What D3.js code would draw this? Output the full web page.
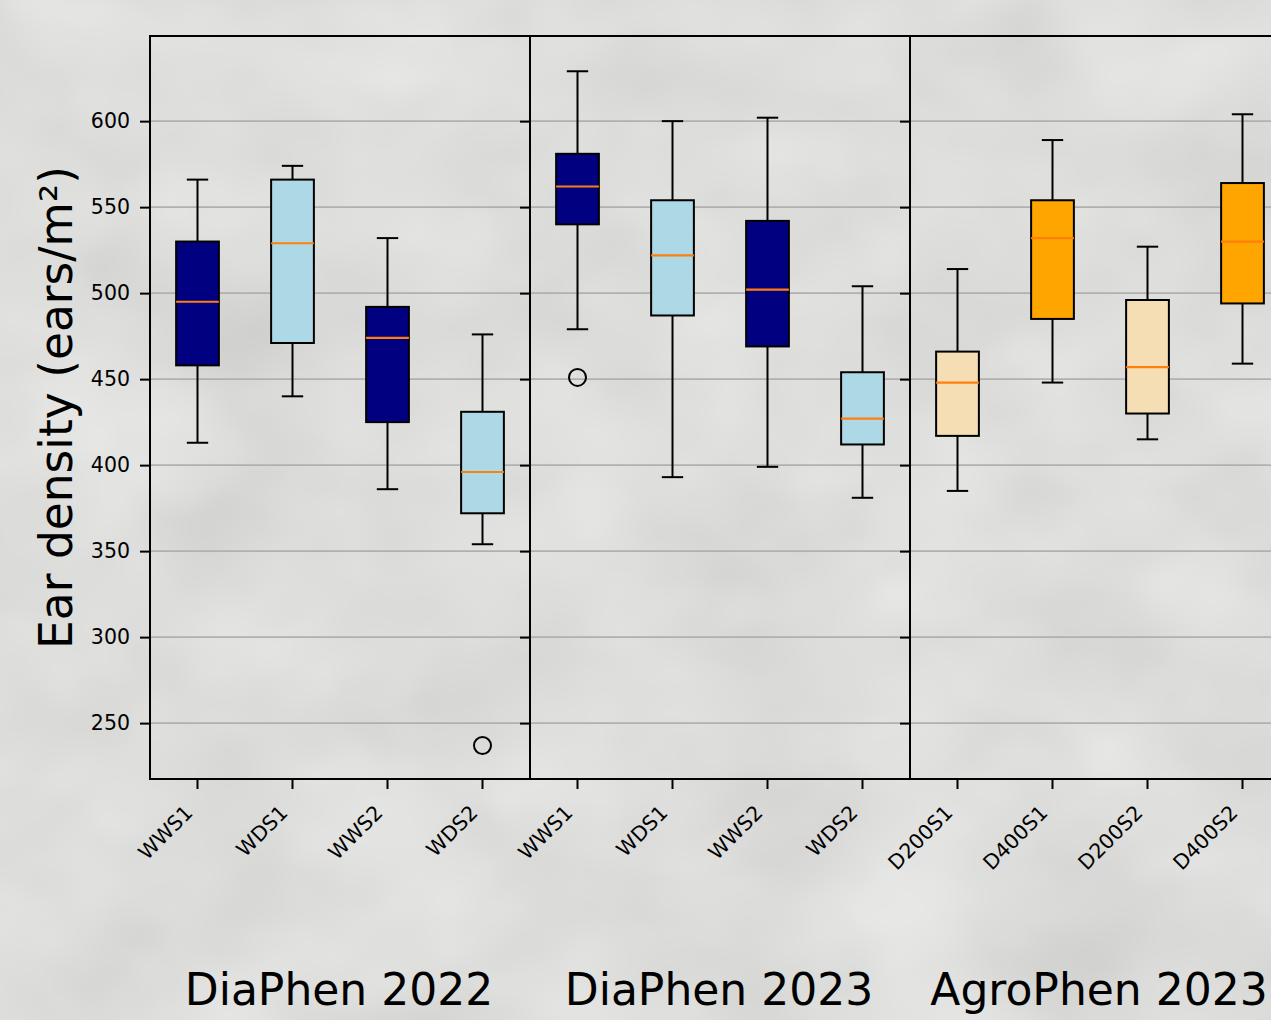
<!DOCTYPE html>
<html>
<head>
<meta charset="utf-8">
<script src="https://cdn.jsdelivr.net/npm/d3@7"></script>
<style>
  html, body { margin: 0; padding: 0; background: #dcdcda; }
  svg { display: block; }
  text { font-family: "DejaVu Sans", sans-serif; fill: #000; }
</style>
</head>
<body>
<div id="chart"></div>
<script>
// ---- data ----
const groups = ["DiaPhen 2022", "DiaPhen 2023", "AgroPhen 2023"];
const categories = [
  ["WWS1", "WDS1", "WWS2", "WDS2"],
  ["WWS1", "WDS1", "WWS2", "WDS2"],
  ["D200S1", "D400S1", "D200S2", "D400S2"]
];
const whiskerLow  = [413, 440, 386, 354,  479, 393, 399, 381,  385, 448, 415, 459];
const q1          = [458, 471, 425, 372,  540, 487, 469, 412,  417, 485, 430, 494];
const median      = [495, 529, 474, 396,  562, 522, 502, 427,  448, 532, 457, 530];
const q3          = [530, 566, 492, 431,  581, 554, 542, 454,  466, 554, 496, 564];
const whiskerHigh = [566, 574, 532, 476,  629, 600, 602, 504,  514, 589, 527, 604];
const outliers = [
  { box: 3, value: 237 },
  { box: 4, value: 451 }
];
const boxColors = ["#000080", "#add8e6", "#000080", "#add8e6",
                   "#000080", "#add8e6", "#000080", "#add8e6",
                   "#f5deb3", "#ffa500", "#f5deb3", "#ffa500"];
const yTicks = [250, 300, 350, 400, 450, 500, 550, 600];

// ---- layout ----
const W = 1271, H = 1020;
const plotTop = 36, plotBottom = 779, plotLeft = 150, panelW = 380;

let svg = d3.select("#chart")
  .append("svg")
  .attr("width", W)
  .attr("height", H);

// textured grey background, a little like the photo behind the original
let defs = svg.append("defs");
let f = defs.append("filter").attr("id", "tex")
  .attr("x", 0).attr("y", 0).attr("width", "100%").attr("height", "100%")
  .attr("color-interpolation-filters", "sRGB");
f.append("feTurbulence").attr("type", "fractalNoise").attr("baseFrequency", "0.006 0.008")
  .attr("numOctaves", 3).attr("seed", 7).attr("result", "n");
f.append("feColorMatrix").attr("in", "n").attr("type", "matrix")
  .attr("values", "0.06 0.06 0.06 0 0.778  0.06 0.06 0.06 0 0.778  0.06 0.06 0.06 0 0.770  0 0 0 0 1");
svg.append("rect").attr("width", W).attr("height", H).attr("filter", "url(#tex)");

let y = d3.scaleLinear().domain([217.5, 649.5]).range([plotBottom, plotTop]);

groups.forEach(function(name, p) {
  let x0 = plotLeft + p * panelW;
  let x = d3.scaleBand().domain(categories[p]).range([x0, x0 + panelW]);
  let bw = x.bandwidth() * 0.45;
  let g = svg.append("g");

  // grid
  g.selectAll(".grid").data(yTicks).enter().append("line")
    .attr("x1", x0).attr("x2", x0 + panelW)
    .attr("y1", d => y(d)).attr("y2", d => y(d))
    .attr("stroke", "#b0b0b0").attr("stroke-width", 1.6);

  // y axis (labels only on the first panel)
  let yAxis = d3.axisLeft(y).tickValues(yTicks).tickSize(10).tickPadding(10)
    .tickFormat(p === 0 ? d3.format("d") : () => "");
  let ya = g.append("g").attr("transform", "translate(" + x0 + ",0)").call(yAxis);
  ya.select(".domain").remove();
  ya.selectAll(".tick line").attr("stroke", "#000").attr("stroke-width", 2);
  ya.selectAll(".tick text").style("font-size", "20.5px").style("font-family", "DejaVu Sans").attr("fill", "#000");

  // x ticks
  let xa = g.append("g").attr("transform", "translate(0," + plotBottom + ")")
    .call(d3.axisBottom(x).tickSize(10).tickFormat(""));
  xa.select(".domain").remove();
  xa.selectAll(".tick line").attr("stroke", "#000").attr("stroke-width", 2);

  g.selectAll(".xlab").data(categories[p]).enter().append("text")
    .attr("text-anchor", "end")
    .attr("transform", d => "translate(" + (x(d) + x.bandwidth() / 2 - 3.5) + ",814) rotate(-45)")
    .style("font-size", "20.5px")
    .text(d => d);

  // boxes
  let idx = d3.range(4).map(i => p * 4 + i);
  let b = g.selectAll(".box").data(idx).enter().append("g");
  let cx = i => x(categories[p][i - p * 4]) + x.bandwidth() / 2;

  b.append("line")
    .attr("x1", cx).attr("x2", cx)
    .attr("y1", i => y(whiskerHigh[i])).attr("y2", i => y(q3[i]))
    .attr("stroke", "#000").attr("stroke-width", 2);
  b.append("line")
    .attr("x1", cx).attr("x2", cx)
    .attr("y1", i => y(q1[i])).attr("y2", i => y(whiskerLow[i]))
    .attr("stroke", "#000").attr("stroke-width", 2);
  b.append("line")
    .attr("x1", i => cx(i) - bw / 4).attr("x2", i => cx(i) + bw / 4)
    .attr("y1", i => y(whiskerHigh[i])).attr("y2", i => y(whiskerHigh[i]))
    .attr("stroke", "#000").attr("stroke-width", 2);
  b.append("line")
    .attr("x1", i => cx(i) - bw / 4).attr("x2", i => cx(i) + bw / 4)
    .attr("y1", i => y(whiskerLow[i])).attr("y2", i => y(whiskerLow[i]))
    .attr("stroke", "#000").attr("stroke-width", 2);
  b.append("rect")
    .attr("x", i => cx(i) - bw / 2).attr("width", bw)
    .attr("y", i => y(q3[i])).attr("height", i => y(q1[i]) - y(q3[i]))
    .attr("fill", i => boxColors[i])
    .attr("stroke", "#000").attr("stroke-width", 2);
  b.append("line")
    .attr("x1", i => cx(i) - bw / 2).attr("x2", i => cx(i) + bw / 2)
    .attr("y1", i => y(median[i])).attr("y2", i => y(median[i]))
    .attr("stroke", "#ff7f0e").attr("stroke-width", 2.2);

  // fliers
  g.selectAll(".flier").data(outliers.filter(o => Math.floor(o.box / 4) === p)).enter()
    .append("circle")
    .attr("cx", o => cx(o.box)).attr("cy", o => y(o.value)).attr("r", 8.5)
    .attr("fill", "none").attr("stroke", "#000").attr("stroke-width", 2);

  // frame of the panel
  g.append("line").attr("x1", x0).attr("x2", x0).attr("y1", plotTop - 1).attr("y2", plotBottom + 1)
    .attr("stroke", "#000").attr("stroke-width", 2);
  g.append("line").attr("x1", x0).attr("x2", x0 + panelW).attr("y1", plotTop).attr("y2", plotTop)
    .attr("stroke", "#000").attr("stroke-width", 2);
  g.append("line").attr("x1", x0).attr("x2", x0 + panelW).attr("y1", plotBottom).attr("y2", plotBottom)
    .attr("stroke", "#000").attr("stroke-width", 2);

  // group name under the panel
  svg.append("text")
    .attr("x", x0 + panelW / 2 - 1).attr("y", 1005)
    .attr("text-anchor", "middle")
    .style("font-size", "44px")
    .text(name);
});

// y label
svg.append("text")
  .attr("transform", "translate(71.5," + ((plotTop + plotBottom) / 2) + ") rotate(-90)")
  .attr("text-anchor", "middle")
  .style("font-size", "45.5px")
  .text("Ear density (ears/m²)");
</script>
</body>
</html>
